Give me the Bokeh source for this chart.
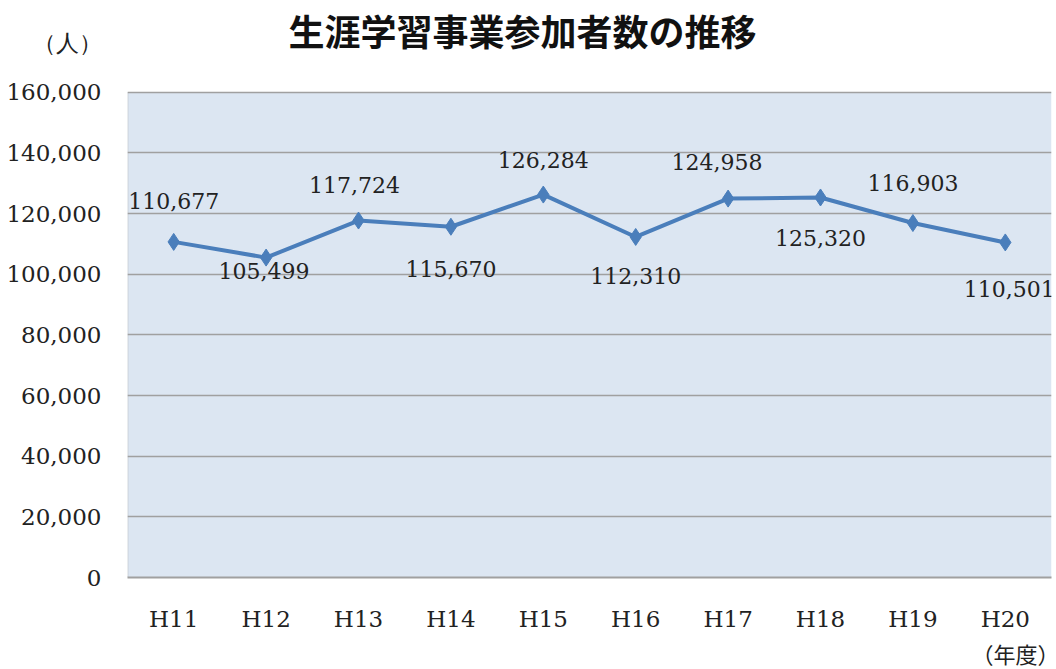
from bokeh.plotting import figure
from bokeh.models import (ColumnDataSource, Title, Label, BoxAnnotation,
                          NumeralTickFormatter, FixedTicker)
from bokeh.core.properties import value
from bokeh.embed import file_html
from bokeh.resources import INLINE

years = ["H11", "H12", "H13", "H14", "H15", "H16", "H17", "H18", "H19", "H20"]
participants = [110677, 105499, 117724, 115670, 126284, 112310, 124958, 125320, 116903, 110501]
label_texts = ["110,677", "105,499", "117,724", "115,670", "126,284", "112,310", "124,958", "125,320", "116,903", "110,501"]
y_ticks = [0, 20000, 40000, 60000, 80000, 100000, 120000, 140000, 160000]
Y_MAX = 160000

# layout / style (pixels)
label_dy = [-41, 13, -36, 42, -35, 39, -37, 41, -40, 47]
label_dx = [0, -2, -4, 0, 0, 0, -11, 0, 0, 4]
FRAME_H = 578          # canvas height of the (extended) frame
AREA_TOP = 92          # pixel row of the 160,000 line
PX_PER_UNIT = (FRAME_H - AREA_TOP) / Y_MAX
def px_to_y(py):
    return (FRAME_H - py) / PX_PER_UNIT
Y_END = px_to_y(0)

SERIF = "DejaVu Serif"
CJK = "Noto Sans CJK JP"

src = ColumnDataSource(dict(x=years, y=participants, t=label_texts, dy=label_dy, dx=label_dx))

p = figure(x_range=years, y_range=(0, Y_END), width=1056, height=669, title=None,
           output_backend="svg", toolbar_location=None,
           min_border_left=127, min_border_right=5, min_border_top=0, min_border_bottom=91)
p.background_fill_color = "white"
p.outline_line_color = None
p.border_fill_color = "white"

# plot area background + left border
p.add_layout(BoxAnnotation(bottom=0, top=Y_MAX, fill_color="#DCE6F2", fill_alpha=1,
                           line_color=None, level="image"))
p.add_layout(BoxAnnotation(left=0, right=0, bottom=0, top=Y_MAX, fill_alpha=0,
                           line_color="#A0A0A0", line_width=2, level="underlay"))

p.line("x", "y", source=src, line_color="#4A7EBB", line_width=4)
p.scatter("x", "y", source=src, marker="diamond", size=17, fill_color="#4A7EBB", line_color="#4A7EBB")
p.text("x", "y", text="t", source=src, x_offset="dx", y_offset="dy",
       text_align="center", text_baseline="middle",
       text_font=value(SERIF), text_font_size="22px", text_color="#222222")

unit_y = int(round(px_to_y(43)))
p.yaxis.ticker = FixedTicker(ticks=y_ticks + [unit_y])
p.yaxis.formatter = NumeralTickFormatter(format="0,0")
p.yaxis.major_label_overrides = {unit_y: "（人）"}
p.ygrid.ticker = FixedTicker(ticks=y_ticks)
for ax in (p.xaxis, p.yaxis):
    ax.major_label_text_font = SERIF
    ax.major_label_text_font_size = "23px"
    ax.major_label_text_color = "#222222"
    ax.major_tick_line_color = None
    ax.minor_tick_line_color = None
    ax.axis_line_color = "#A0A0A0"
    ax.axis_line_width = 2
p.yaxis.axis_line_color = None
p.yaxis.major_label_standoff = 20
p.xaxis.major_label_standoff = 22
p.xgrid.grid_line_color = None
p.ygrid.grid_line_color = "#A0A0A0"
p.ygrid.grid_line_width = 1.5

p.add_layout(Label(x=(522 - 127) / 92.4, y=px_to_y(30), text="生涯学習事業参加者数の推移",
                   text_align="center", text_baseline="middle",
                   text_font=CJK, text_font_size="36px", text_font_style="bold",
                   text_color="#111111"))
p.add_layout(Title(text="（年度）", align="right", offset=-8, standoff=1,
                   text_font=CJK, text_font_size="22px", text_font_style="normal",
                   text_color="#222222"), "below")

open("out.html", "w").write(file_html(p, INLINE))
